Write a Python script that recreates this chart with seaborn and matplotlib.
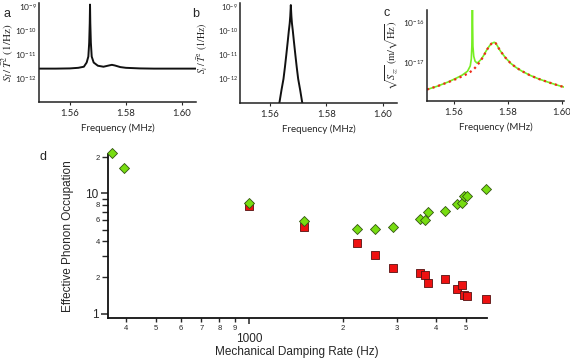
import numpy as np
import pandas as pd
import matplotlib
matplotlib.use("Agg")
import matplotlib.pyplot as plt
import seaborn as sns

# ---- panel a: S_I / T^2 spectrum (freq MHz, 1/Hz)
freq_a = [1.549, 1.555, 1.560, 1.563, 1.565, 1.566, 1.5666, 1.5669, 1.5671, 1.5672,
          1.5673, 1.5675, 1.5678, 1.5685, 1.570, 1.572, 1.574, 1.575, 1.576, 1.578,
          1.580, 1.585, 1.590, 1.600, 1.605]
spec_a = [2.5e-12, 2.5e-12, 2.55e-12, 2.7e-12, 3.0e-12, 4.5e-12, 8e-12, 3e-11, 2e-10, 1.2e-9,
          2e-10, 3e-11, 8e-12, 4.5e-12, 3.3e-12, 3.0e-12, 3.4e-12, 3.6e-12, 3.4e-12, 2.9e-12,
          2.7e-12, 2.55e-12, 2.5e-12, 2.5e-12, 2.5e-12]

# ---- panel b: S_i / T^2 (narrow peak only)
freq_b = [1.5629, 1.5634, 1.5641, 1.5648, 1.5653, 1.5658, 1.5663, 1.5667, 1.5670, 1.5672,
          1.5674, 1.5676, 1.5678, 1.5681, 1.5685, 1.5690, 1.5695, 1.5700, 1.5707, 1.5714, 1.5719]
spec_b = [7e-14, 1.1e-13, 3.5e-13, 1e-12, 3e-12, 1e-11, 3.5e-11, 1e-10, 2e-10, 4e-10,
          1.15e-9, 4e-10, 2e-10, 1e-10, 3.5e-11, 1e-11, 3e-12, 1e-12, 3.5e-13, 1.1e-13, 7e-14]

# ---- panel c: sqrt(S_zz) (m/sqrt(Hz)), total (green) and fit (red dotted)
freq_c = [1.550, 1.554, 1.558, 1.561, 1.563, 1.565, 1.566, 1.5664, 1.5666, 1.5668,
          1.5670, 1.5673, 1.5678, 1.5685, 1.569, 1.570, 1.571, 1.572, 1.573, 1.5738,
          1.5744, 1.5749, 1.5754, 1.576, 1.577, 1.579, 1.581, 1.583, 1.585, 1.588,
          1.591, 1.595, 1.5985, 1.6007]
total_c = [2.04e-18, 2.5e-18, 3.2e-18, 4.0e-18, 4.7e-18, 5.9e-18, 8e-18, 1.2e-17, 2.5e-17, 2.4e-16,
           2.5e-17, 1.4e-17, 1.05e-17, 9.5e-18, 1.0e-17, 1.17e-17, 1.48e-17, 1.97e-17, 2.5e-17, 2.9e-17,
           3.05e-17, 3.16e-17, 3.0e-17, 2.6e-17, 1.97e-17, 1.3e-17, 9.3e-18, 7.3e-18, 6.0e-18, 4.7e-18,
           3.85e-18, 3.1e-18, 2.6e-18, 2.35e-18]
freq_fit = [1.550, 1.554, 1.558, 1.561, 1.563, 1.565, 1.567, 1.5685, 1.570, 1.571,
            1.572, 1.573, 1.5738, 1.5744, 1.5749, 1.5754, 1.576, 1.577, 1.579, 1.581,
            1.583, 1.585, 1.588, 1.591, 1.595, 1.5985, 1.6007]
fit_c = [2.04e-18, 2.5e-18, 3.15e-18, 3.8e-18, 4.4e-18, 5.1e-18, 6.3e-18, 8.1e-18, 1.12e-17, 1.45e-17,
         1.95e-17, 2.5e-17, 2.9e-17, 3.05e-17, 3.16e-17, 3.0e-17, 2.6e-17, 1.97e-17, 1.3e-17, 9.3e-18,
         7.3e-18, 6.0e-18, 4.7e-18, 3.85e-18, 3.1e-18, 2.6e-18, 2.35e-18]

# ---- panel d: effective phonon occupation vs mechanical damping rate (Hz)
damping = [361, 394, 1000, 1500, 2225, 2545, 2910, 3560, 3690, 3780,
           4290, 4670, 4860, 4930, 5030, 5830]
occ_total = [21.5, 16.2, 8.26, 5.92, 5.08, 5.02, 5.25, 6.12, 6.0, 6.95,
             7.09, 8.10, 8.26, 9.44, 9.44, 10.9]
occ_cooled = [np.nan, np.nan, 7.9, 5.25, 3.84, 3.06, 2.41, 2.19, 2.11, 1.79,
              1.93, 1.60, 1.74, 1.43, 1.41, 1.32]

xticks_minor = [400, 500, 600, 700, 800, 900, 2000, 3000, 4000, 5000]
xlabels_minor = ['4', '5', '6', '7', '8', '9', '2', '3', '4', '5']
yticks_minor = [2, 3, 4, 5, 6, 7, 8, 9, 20]
ylabels_minor = ['2', '', '4', '', '6', '', '8', '', '2']

sns.set_theme(style='ticks')
plt.rcParams['font.family'] = ['Lato', 'DejaVu Sans']
plt.rcParams['mathtext.fontset'] = 'stix'

fig = plt.figure(figsize=(5.7, 3.61), dpi=100)
W, H = 570.0, 361.0
ARIAL = ['Liberation Sans', 'DejaVu Sans']


def box(l, t, r, b):
    return [l / W, 1 - b / H, (r - l) / W, (b - t) / H]


ax_a = fig.add_axes(box(39, 3, 196, 102))
ax_b = fig.add_axes(box(240, 3, 397, 103))
ax_c = fig.add_axes(box(427, 10, 564, 101))
ax_d = fig.add_axes(box(107.7, 154, 486.7, 317.7))

sns.lineplot(x=freq_a, y=spec_a, ax=ax_a, color='#111111', lw=1.4, sort=False)
sns.lineplot(x=freq_b, y=spec_b, ax=ax_b, color='#111111', lw=1.4, sort=False)
sns.lineplot(x=freq_c, y=total_c, ax=ax_c, color='#77ee22', lw=1.2, sort=False)
sns.lineplot(x=freq_fit, y=fit_c, ax=ax_c, color='#ee2a1a', lw=1.6, sort=False,
             linestyle=(0, (1, 1.6)))

for ax, xl, yl in [(ax_a, (1.549, 1.605), (1e-13, 1.4e-9)),
                   (ax_b, (1.5494, 1.605), (1e-13, 1.4e-9)),
                   (ax_c, (1.55, 1.6007), (1.05e-18, 2.05e-16))]:
    ax.set_yscale('log')
    ax.set_xlim(xl)
    ax.set_ylim(yl)
    ax.set_xticks([1.56, 1.58, 1.60], ['1.56', '1.58', '1.60'])
    ax.yaxis.set_minor_locator(matplotlib.ticker.NullLocator())
    ax.tick_params(axis='x', labelsize=6.8, length=2, width=0.8, pad=3)
    ax.tick_params(axis='y', labelsize=6, length=0, pad=1.5)
    ax.set_xlabel('Frequency (MHz)', fontsize=7, labelpad=4)
    for s in ['top', 'right']:
        ax.spines[s].set_visible(False)
    for s in ['left', 'bottom']:
        ax.spines[s].set_linewidth(1.1)
        ax.spines[s].set_color('#222222')
    ax.set_facecolor('none')

ax_a.set_yticks([1e-12, 1e-11, 1e-10, 1e-9])
ax_b.set_yticks([1e-12, 1e-11, 1e-10, 1e-9])
ax_b.tick_params(axis='y', labelsize=5.5)
ax_c.set_yticks([1e-17, 1e-16])

ax_a.set_ylabel(r'$S_I\,/\,\bar{T}^2\ \mathrm{(1/Hz)}$', fontsize=8)
ax_a.yaxis.set_label_coords(-0.145, 0.5)
ax_b.set_ylabel(r'$S_i\,/\,\bar{T}^2\ \mathrm{(1/Hz)}$', fontsize=7)
ax_b.yaxis.set_label_coords(-0.19, 0.55)
ax_c.set_ylabel(r'$\sqrt{S_{zz}}\ \mathrm{(m/\sqrt{Hz})}$', fontsize=7.5)
ax_c.yaxis.set_label_coords(-0.2, 0.5)

# ---- panel d
sns.scatterplot(x=damping, y=occ_cooled, ax=ax_d, marker='s', s=28, color='#ee1111',
                edgecolor='#551111', linewidth=0.6, clip_on=False, zorder=3)
sns.scatterplot(x=damping, y=occ_total, ax=ax_d, marker='D', s=26, color='#77dd11',
                edgecolor='#335511', linewidth=0.6, clip_on=False, zorder=4)
ax_d.set_xscale('log')
ax_d.set_yscale('log')
ax_d.set_xlim(349, 5840)
ax_d.set_ylim(0.926, 21.2)
ax_d.set_xticks([1000], ['1000'])
ax_d.set_xticks(xticks_minor, minor=True)
ax_d.set_xticklabels(xlabels_minor, minor=True)
ax_d.set_yticks([1, 10], ['1', '10'])
ax_d.set_yticks(yticks_minor, minor=True)
ax_d.set_yticklabels(ylabels_minor, minor=True)
ax_d.tick_params(axis='x', which='major', labelsize=8.5, length=4, width=1.1, pad=7)
ax_d.tick_params(axis='x', which='minor', labelsize=5.5, length=3, width=1.0, pad=2)
ax_d.tick_params(axis='y', which='major', labelsize=8.5, length=5, width=1.1, pad=1.5)
ax_d.tick_params(axis='y', which='minor', labelsize=5.5, length=4, width=1.0, pad=1.5)
for s in ['top', 'right']:
    ax_d.spines[s].set_visible(False)
for s in ['left', 'bottom']:
    ax_d.spines[s].set_linewidth(1.3)
    ax_d.spines[s].set_color('#111111')
for lab in ax_d.get_xticklabels(which='both') + ax_d.get_yticklabels(which='both'):
    lab.set_family(ARIAL)
ax_d.set_xlabel('Mechanical Damping Rate (Hz)', fontsize=8.5, labelpad=1, family=ARIAL)
ax_d.set_ylabel('Effective Phonon Occupation', fontsize=8.5, family=ARIAL)
ax_d.yaxis.set_label_coords(-0.088, 0.5)

for lbl, x, y in [('a', 4, 14), ('b', 192, 14), ('c', 384, 13), ('d', 40, 157)]:
    fig.text(x / W, 1 - y / H, lbl, fontsize=9, ha='left', va='center', family=ARIAL)

fig.savefig('out.png', dpi=100)
